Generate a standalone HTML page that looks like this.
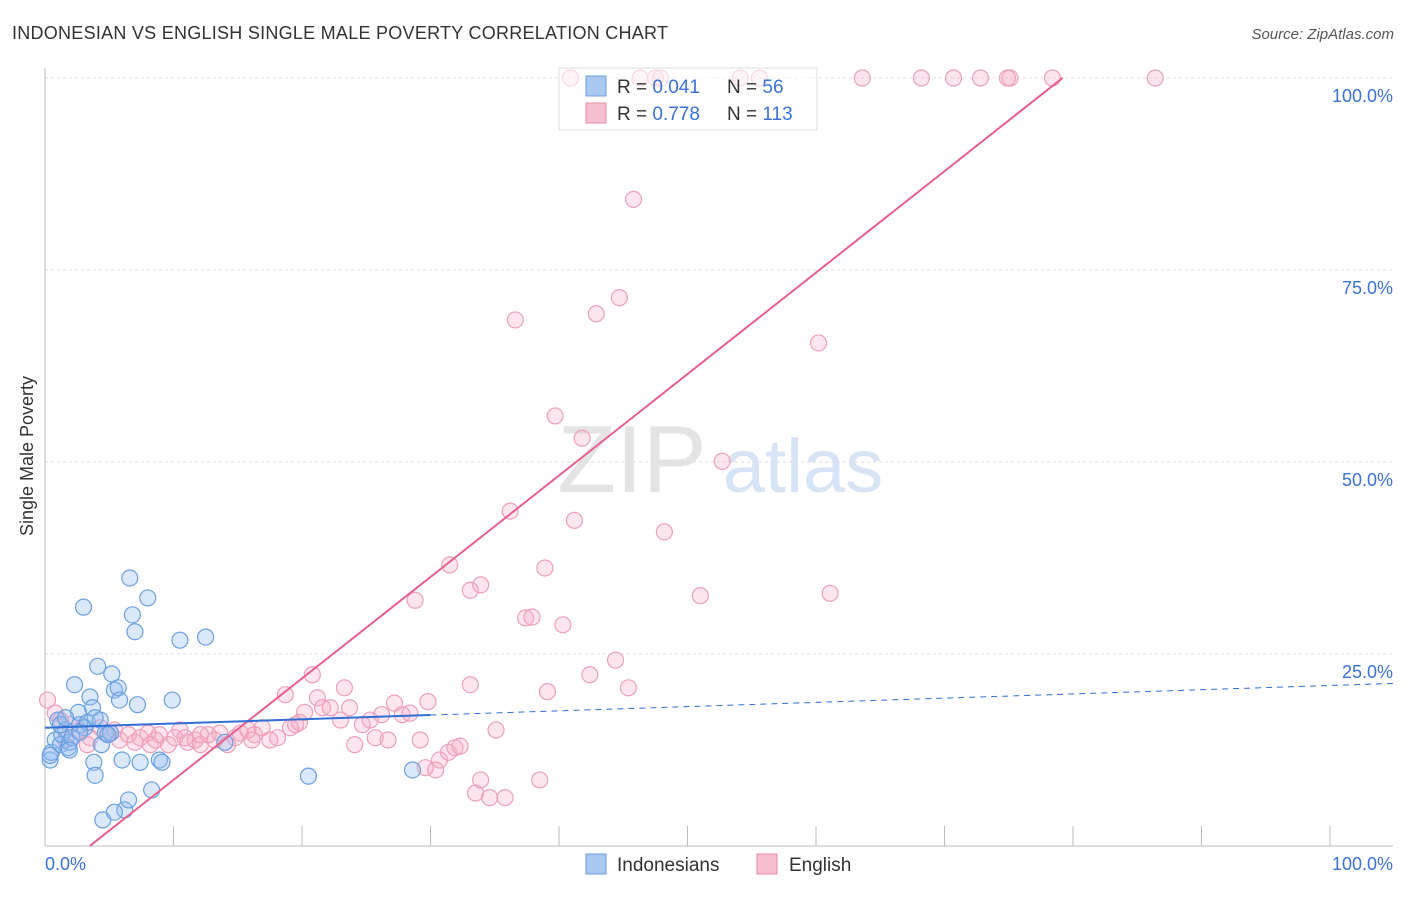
<!DOCTYPE html>
<html><head><meta charset="utf-8"><style>
body{margin:0;background:#fff;font-family:"Liberation Sans",sans-serif;}
svg text{font-family:"Liberation Sans",sans-serif;}
</style></head><body>
<svg id="chart" width="1406" height="892" viewBox="0 0 1406 892">
<text x="12" y="39" font-size="18" fill="#333" textLength="656" lengthAdjust="spacing">INDONESIAN VS ENGLISH SINGLE MALE POVERTY CORRELATION CHART</text>
<text x="1394" y="39" font-size="15" fill="#555" text-anchor="end" font-style="italic">Source: ZipAtlas.com</text>
<g>
<text x="632" y="492" font-size="96" fill="#e4e4e4" text-anchor="middle" font-family="Liberation Serif">ZIP</text>
<text x="803" y="492" font-size="76" fill="#d6e4f5" text-anchor="middle">atlas</text>
</g>
<g id="grid"></g><g id="marks"></g>
<text transform="translate(33,456) rotate(-90)" font-size="18" fill="#333" text-anchor="middle">Single Male Poverty</text>
<g>
<rect x="559" y="68" width="258" height="62" fill="rgba(255,255,255,0.6)" stroke="#ddd"/>
<rect x="586" y="76" width="20" height="20" fill="#a8c8f0" stroke="#6a9fe0"/>
<text x="617" y="93" font-size="19" fill="#333">R = <tspan fill="#3a73d8">0.041</tspan></text>
<text x="727" y="93" font-size="19" fill="#333">N = <tspan fill="#3a73d8">56</tspan></text>
<rect x="586" y="103" width="20" height="20" fill="#f7bfd0" stroke="#e88aa8"/>
<text x="617" y="120" font-size="19" fill="#333">R = <tspan fill="#3a73d8">0.778</tspan></text>
<text x="727" y="120" font-size="19" fill="#333">N = <tspan fill="#3a73d8">113</tspan></text>
</g>
<g>
<rect x="586" y="854" width="20" height="20" fill="#a8c8f0" stroke="#6a9fe0"/>
<text x="617" y="871" font-size="19" fill="#333">Indonesians</text>
<rect x="757" y="854" width="20" height="20" fill="#f7bfd0" stroke="#e88aa8"/>
<text x="789" y="871" font-size="19" fill="#333">English</text>
</g>
</svg>
<script>
const blueX=[0.4,0.5,0.8,1.0,1.2,1.3,1.6,1.8,1.9,2.1,2.3,2.6,2.7,3.0,3.1,3.3,3.5,3.7,3.8,3.9,4.1,4.3,4.4,4.7,5.1,5.2,5.4,5.7,5.8,6.0,6.2,6.5,6.6,6.8,7.0,7.2,7.4,8.0,8.3,8.9,9.9,10.5,12.5,14.0,20.5,28.6,4.5,5.4,1.2,1.9,0.4,1.6,2.7,3.9,4.9,9.1];
const blueY=[11.2,12.2,13.8,16.4,13.2,14.5,15.1,12.8,13.5,14.1,21.0,17.4,15.8,31.1,15.4,16.1,19.4,18.0,10.9,9.2,23.4,16.4,13.2,14.7,14.7,22.4,20.3,20.6,19.0,11.2,4.7,6.0,34.9,30.1,27.9,18.4,10.9,32.3,7.3,11.2,19.0,26.8,27.2,13.5,9.1,9.9,3.4,4.4,15.8,12.5,11.8,16.7,14.8,16.7,14.5,10.9];
const pinkX=[0.2,0.8,1.2,1.9,2.7,3.5,4.3,4.9,5.4,5.8,6.5,7.0,7.4,8.0,8.6,8.9,9.6,10.1,10.5,11.1,11.7,12.1,12.7,13.2,13.6,14.2,14.8,15.2,15.8,16.3,16.9,17.5,18.1,18.7,19.1,19.5,19.8,20.2,20.8,21.2,21.6,22.2,23.0,23.3,23.7,24.1,24.7,25.3,25.7,26.2,26.7,27.2,27.8,28.4,29.2,29.6,29.8,30.4,30.7,31.4,31.9,32.3,33.1,33.5,33.9,34.6,35.1,35.8,36.6,37.4,37.9,38.5,38.9,39.1,39.7,40.3,41.2,41.8,42.4,42.9,44.4,44.7,45.4,45.8,46.3,47.9,48.2,51.0,52.7,54.1,55.6,60.2,61.1,63.6,68.2,70.7,72.8,75.1,78.4,86.4,40.9,33.1,33.9,31.5,28.8,74.9,47.5,3.3,1.6,16.1,12.1,10.9,8.2,36.2];
const pinkY=[19.0,17.3,16.4,15.8,15.1,14.1,15.4,14.5,15.1,13.8,14.5,13.5,14.1,14.7,13.8,14.5,13.2,14.1,15.1,13.5,13.8,13.2,14.5,13.8,14.7,13.2,14.1,14.7,15.1,14.5,15.4,13.8,14.1,19.7,15.4,15.8,16.1,17.4,22.3,19.3,18.0,18.0,16.4,20.6,18.0,13.2,15.8,16.4,14.1,17.1,13.8,18.6,17.1,17.3,13.8,10.2,18.8,9.9,11.2,12.2,12.8,13.0,21.0,6.9,8.6,6.3,15.1,6.3,68.5,29.7,29.8,8.6,36.2,20.1,56.0,28.8,42.4,53.1,22.3,69.3,24.2,71.4,20.6,84.2,100,100,40.9,32.6,50.1,100,100,65.5,32.9,100,100,100,100,100,100,100,100,33.3,34.0,36.6,32.0,100,100,13.2,13.8,13.8,14.5,14.1,13.2,43.6];
const yTicks=[25,50,75,100];
const yTickLabels=["25.0%","50.0%","75.0%","100.0%"];
const xTicks=[0,10,20,30,40,50,60,70,80,90,100];
const blueFit=[15.4,0.055];
const pinkFit=[-4.6,1.321];
const NS="http://www.w3.org/2000/svg";
const sx=v=>45+v*12.85, sy=v=>846-v*7.68;
function mk(tag,attrs,parent){const e=document.createElementNS(NS,tag);for(const k in attrs)e.setAttribute(k,attrs[k]);parent.appendChild(e);return e;}
const grid=document.getElementById('grid'), marks=document.getElementById('marks');
yTicks.forEach((t,i)=>{
 const l=mk('line',{x1:45,x2:1393,y1:sy(t),y2:sy(t),stroke:'#ddd','stroke-dasharray':'3,3'},grid);
 
 
 const tx=mk('text',{x:1393,y:sy(t)+24,'font-size':18,fill:'#3a73d8','text-anchor':'end'},grid);
 tx.textContent=yTickLabels[i];
 
 
});
const ax=mk('line',{x1:45,x2:1393,y1:846,y2:846,stroke:'#bbb'},grid);


const ay=mk('line',{x1:45,x2:45,y1:68,y2:846,stroke:'#bbb'},grid);


xTicks.forEach(t=>{
 const l=mk('line',{x1:sx(t),x2:sx(t),y1:826,y2:846,stroke:'#bbb'},grid);
 
 
});
const xl0=mk('text',{x:45,y:870,'font-size':18,fill:'#3a73d8'},grid);xl0.textContent="0.0%";


const xl1=mk('text',{x:1393,y:870,'font-size':18,fill:'#3a73d8','text-anchor':'end'},grid);xl1.textContent="100.0%";


pinkX.forEach((x,i)=>{
 const c=mk('circle',{cx:sx(x),cy:sy(pinkY[i]),r:8,fill:'rgba(244,170,195,0.3)',stroke:'#eda0b9','stroke-width':1.2},marks);
 
 
});
blueX.forEach((x,i)=>{
 const c=mk('circle',{cx:sx(x),cy:sy(blueY[i]),r:8,fill:'rgba(150,190,240,0.35)',stroke:'#6a9fe0','stroke-width':1.2},marks);
 
 
});
const pl=mk('line',{x1:sx(3.5),y1:sy(pinkFit[0]+pinkFit[1]*3.5),x2:sx(79.2),y2:sy(pinkFit[0]+pinkFit[1]*79.2),stroke:'#e8608e','stroke-width':2},marks);


const bl=mk('line',{x1:sx(0),y1:sy(blueFit[0]),x2:sx(30),y2:sy(blueFit[0]+blueFit[1]*30),stroke:'#2f6fd6','stroke-width':2},marks);


const bd=mk('line',{x1:sx(30),y1:sy(blueFit[0]+blueFit[1]*30),x2:sx(104.9),y2:sy(blueFit[0]+blueFit[1]*104.9),stroke:'#2f6fd6','stroke-width':1,'stroke-dasharray':'6,5'},marks);


</script>
</body></html>
